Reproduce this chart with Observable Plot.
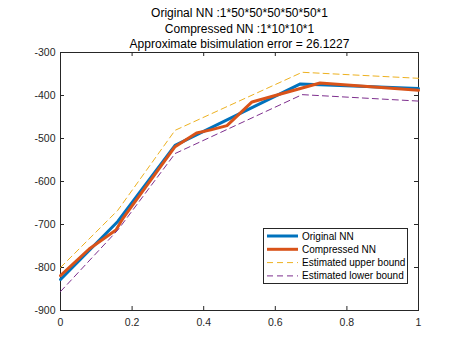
<!DOCTYPE html>
<html><head><meta charset="utf-8">
<script src="https://cdn.jsdelivr.net/npm/d3@7"></script>
<script src="https://cdn.jsdelivr.net/npm/@observablehq/plot@0.6"></script>
<style>
body{margin:0;background:#fff}
svg{font-family:"Liberation Sans",Arial,sans-serif}
</style>
</head><body><div id="chart"></div>
<script>
const titleLines = ["Original NN :1*50*50*50*50*50*1", "Compressed NN :1*10*10*1", "Approximate bisimulation error = 26.1227"];
const xOriginal = [0, 0.16, 0.32, 0.67, 1];
const yOriginal = [-828, -693, -516, -373, -384];
const xCompressed = [0, 0.08, 0.155, 0.175, 0.32, 0.38, 0.42, 0.465, 0.535, 0.725, 1];
const yCompressed = [-819, -757, -713, -685, -519, -487, -480, -470, -415, -371, -388];
const xBound = [0, 0.16, 0.32, 0.675, 1];
const yUpper = [-800, -667, -481, -346, -360];
const yLower = [-856, -713, -535, -398, -413];
const xTicks = [0, 0.2, 0.4, 0.6, 0.8, 1];
const yTicks = [-900, -800, -700, -600, -500, -400, -300];
const legendLabels = ["Original NN", "Compressed NN", "Estimated upper bound", "Estimated lower bound"];
const colors = ["#0072BD", "#D95319", "#EDB120", "#7E2F8E"];

const W = 463, H = 348, mL = 60, mR = 45, mT = 52, mB = 38;
const frameW = W - mL - mR, frameH = H - mT - mB;
const tickLen = 4;
const axisColor = "#262626";

const pts = (xs, ys) => xs.map((x, i) => ({x, y: ys[i]}));

const svg = Plot.plot({
  width: W, height: H,
  marginLeft: mL, marginRight: mR, marginTop: mT, marginBottom: mB,
  x: {domain: [0, 1]},
  y: {domain: [-900, -300]},
  style: {fontFamily: "Liberation Sans, Arial, sans-serif", background: "#fff"},
  marks: [
    Plot.axisX(xTicks, {tickSize: 0, tickPadding: 8, fontSize: 10.5, tickFormat: d => String(d), label: null, color: axisColor}),
    Plot.axisY(yTicks, {tickSize: 0, tickPadding: 5, fontSize: 10.5, tickFormat: d => String(d), label: null, color: axisColor}),
    Plot.tickX(xTicks, {x: d => d, insetTop: frameH - tickLen, stroke: axisColor}),
    Plot.tickX(xTicks, {x: d => d, insetBottom: frameH - tickLen, stroke: axisColor}),
    Plot.tickY(yTicks, {y: d => d, insetRight: frameW - tickLen, stroke: axisColor}),
    Plot.tickY(yTicks, {y: d => d, insetLeft: frameW - tickLen, stroke: axisColor}),
    Plot.frame({stroke: axisColor}),
    Plot.line(pts(xOriginal, yOriginal), {x: "x", y: "y", stroke: colors[0], strokeWidth: 3}),
    Plot.line(pts(xCompressed, yCompressed), {x: "x", y: "y", stroke: colors[1], strokeWidth: 3}),
    Plot.line(pts(xBound, yUpper), {x: "x", y: "y", stroke: colors[2], strokeWidth: 1, strokeDasharray: "6,4"}),
    Plot.line(pts(xBound, yLower), {x: "x", y: "y", stroke: colors[3], strokeWidth: 1, strokeDasharray: "6,4"}),
    Plot.text([titleLines[0]], {text: d => d, frameAnchor: "top", dy: -39, fontSize: 12, fill: "#000", lineAnchor: "middle"}),
    Plot.text([titleLines[1]], {text: d => d, frameAnchor: "top", dy: -23, fontSize: 12, fill: "#000", lineAnchor: "middle"}),
    Plot.text([titleLines[2]], {text: d => d, frameAnchor: "top", dy: -8, fontSize: 12, fill: "#000", lineAnchor: "middle"})
  ]
});

// legend
const lg = d3.select(svg).append("g").attr("text-anchor", "start");
const lx = 263, ly = 228, lw = 144, lh = 55;
lg.append("rect").attr("x", lx + 0.5).attr("y", ly + 0.5).attr("width", lw).attr("height", lh)
  .attr("fill", "#fff").attr("stroke", axisColor).attr("stroke-width", 1);
legendLabels.forEach((lab, i) => {
  const yy = ly + 8 + i * 13.3;
  lg.append("line").attr("x1", lx + 4).attr("x2", lx + 35).attr("y1", yy).attr("y2", yy)
    .attr("stroke", colors[i]).attr("stroke-width", i < 2 ? 3 : 1)
    .attr("stroke-dasharray", i < 2 ? null : "6,4");
  lg.append("text").attr("x", lx + 39).attr("y", yy).attr("dy", "0.35em")
    .attr("text-anchor", "start")
    .attr("font-size", 10).attr("fill", "#000").text(lab);
});

document.getElementById("chart").appendChild(svg);
</script>
</body></html>
